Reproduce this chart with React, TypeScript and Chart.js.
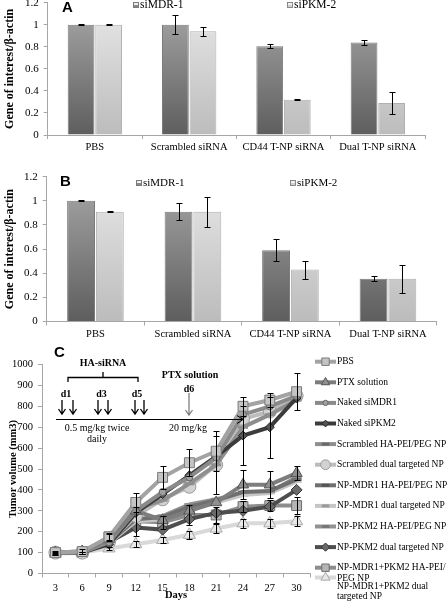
import React, { useEffect, useRef } from "react";
import { Chart, registerables } from "chart.js";
Chart.register(...registerables);

const SERIF = '"Liberation Serif", "Times New Roman", serif';
const SANS = '"Liberation Sans", Arial, sans-serif';

// ---------- Panels A & B data ----------
const barCategories = ["PBS", "Scrambled siRNA", "CD44 T-NP siRNA", "Dual T-NP siRNA"];
const barSeriesNames = ["siMDR-1", "siPKM-2"];
const barYTicks = [0, 0.2, 0.4, 0.6, 0.8, 1, 1.2];

const aMDR1 = [1.0, 1.0, 0.805, 0.84];
const aMDR1Err = [0.004, 0.085, 0.02, 0.025];
const aPKM2 = [1.0, 0.94, 0.32, 0.29];
const aPKM2Err = [0.004, 0.04, 0.005, 0.1];

const bMDR1 = [1.0, 0.91, 0.59, 0.355];
const bMDR1Err = [0.003, 0.07, 0.09, 0.022];
const bPKM2 = [0.91, 0.91, 0.43, 0.355];
const bPKM2Err = [0.003, 0.125, 0.075, 0.115];

// ---------- Panel C data ----------
const days = ["3", "6", "9", "12", "15", "18", "21", "24", "27", "30"];
const cNames = [
  "PBS",
  "PTX solution",
  "Naked siMDR1",
  "Naked siPKM2",
  "Scrambled HA-PEI/PEG NP",
  "Scrambled dual targeted NP",
  "NP-MDR1 HA-PEI/PEG NP",
  "NP-MDR1 dual targeted NP",
  "NP-PKM2 HA-PEI/PEG NP",
  "NP-PKM2 dual targeted NP",
  "NP-MDR1+PKM2 HA-PEI/\nPEG NP",
  "NP-MDR1+PKM2 dual\ntargeted NP",
];
const cPBS = [100, 105, 175, 340, 460, 530, 585, 800, 830, 870];
const cPTX = [100, 105, 165, 300, 255, 300, 340, 425, 425, 480];
const cNakedMDR1 = [100, 100, 150, 300, 390, 460, 555, 760, 800, 850];
const cNakedPKM2 = [100, 100, 140, 290, 380, 470, 560, 660, 700, 840];
const cScrHA = [100, 105, 155, 310, 350, 430, 520, 700, 760, 830];
const cScrDual = [100, 100, 150, 275, 355, 415, 520, 740, 775, 850];
const cMDR1HA = [100, 100, 150, 260, 270, 320, 350, 390, 395, 450];
const cMDR1Dual = [100, 100, 145, 250, 260, 310, 340, 375, 385, 440];
const cPKM2HA = [100, 100, 150, 255, 275, 330, 355, 385, 390, 460];
const cPKM2Dual = [100, 100, 150, 220, 210, 260, 290, 300, 320, 400];
const cComboHA = [100, 100, 175, 250, 245, 280, 280, 320, 325, 325];
const cComboDual = [95, 100, 120, 140, 160, 185, 215, 240, 240, 250];

const cPBSErr = [10, 12, 20, 45, 55, 65, 95, 45, 35, 90];
const cNakedPKM2Err = [0, 0, 0, 0, 0, 0, 0, 140, 145, 0];
const cScrDualErr = [0, 0, 0, 0, 0, 0, 140, 0, 0, 0];
const cPTXErr = [0, 0, 0, 0, 0, 0, 0, 70, 65, 35];
const cComboHAErr = [5, 5, 15, 70, 30, 50, 40, 25, 25, 40];
const cComboDualErr = [5, 5, 8, 15, 15, 20, 20, 20, 20, 25];
const cYTicks = [0, 100, 200, 300, 400, 500, 600, 700, 800, 900, 1000];

const cValues = [cPBS, cPTX, cNakedMDR1, cNakedPKM2, cScrHA, cScrDual, cMDR1HA, cMDR1Dual, cPKM2HA, cPKM2Dual, cComboHA, cComboDual];
const cErrors = [cPBSErr, cPTXErr, null, cNakedPKM2Err, null, cScrDualErr, null, null, null, null, cComboHAErr, cComboDualErr];

// ---------- styles / layout ----------
const cStyles = [
  { line: "#a3a3a3", fill: "#c4c4c4", edge: "#7a7a7a", marker: "rect", r: 7 },
  { line: "#7d7d7d", fill: "#8f8f8f", edge: "#555555", marker: "triangle", r: 6.5 },
  { line: "#8a8a8a", fill: "#a0a0a0", edge: "#666666", marker: "circle", r: 3.5 },
  { line: "#3c3c3c", fill: "#555555", edge: "#222222", marker: "rectRot", r: 4.5 },
  { line: "#8e8e8e", fill: "#8e8e8e", edge: "#6a6a6a", marker: "line", r: 5 },
  { line: "#bcbcbc", fill: "#d2d2d2", edge: "#9a9a9a", marker: "circle", r: 6.5 },
  { line: "#6f6f6f", fill: "#777777", edge: "#555555", marker: "line", r: 5 },
  { line: "#c6c6c6", fill: "#c6c6c6", edge: "#9a9a9a", marker: "line", r: 5 },
  { line: "#929292", fill: "#999999", edge: "#777777", marker: "line", r: 5 },
  { line: "#4e4e4e", fill: "#6a6a6a", edge: "#333333", marker: "rectRot", r: 5.5 },
  { line: "#8d8d8d", fill: "#b5b5b5", edge: "#6f6f6f", marker: "rect", r: 7 },
  { line: "#d9d9d9", fill: "#e8e8e8", edge: "#a8a8a8", marker: "triangle", r: 7 },
];

const AXIS = "#a6a6a6";
const A_TOP = -10, A_H = 170;
const B_TOP = 150, B_H = 197;
const C_TOP = 338, C_H = 264;

function drawMarker(ctx: CanvasRenderingContext2D, style: string, x: number, y: number, r: number, fill: string, stroke: string, bw: number) {
  ctx.save();
  ctx.fillStyle = fill;
  ctx.strokeStyle = stroke;
  ctx.lineWidth = bw;
  ctx.beginPath();
  if (style === "rect") {
    const s = Math.SQRT1_2 * r;
    ctx.rect(x - s, y - s, 2 * s, 2 * s);
  } else if (style === "rectRot") {
    ctx.moveTo(x, y - r); ctx.lineTo(x + r, y); ctx.lineTo(x, y + r); ctx.lineTo(x - r, y); ctx.closePath();
  } else if (style === "triangle") {
    const t = (2 * Math.PI) / 3;
    ctx.moveTo(x, y - r);
    ctx.lineTo(x + Math.sin(t) * r, y - Math.cos(t) * r);
    ctx.lineTo(x + Math.sin(2 * t) * r, y - Math.cos(2 * t) * r);
    ctx.closePath();
  } else if (style === "circle") {
    ctx.arc(x, y, r, 0, Math.PI * 2);
  } else {
    ctx.moveTo(x - r, y); ctx.lineTo(x + r, y);
    ctx.lineWidth = 3;
    ctx.stroke();
    ctx.restore();
    return;
  }
  ctx.fill();
  if (bw > 0) ctx.stroke();
  ctx.restore();
}

const errorBarPlugin = {
  id: "errorBars",
  afterDatasetsDraw(chart: any, _a: any, opts: any) {
    const ctx = chart.ctx;
    const ys = chart.scales.y;
    const cap = opts && opts.cap ? opts.cap : 3;
    chart.data.datasets.forEach((ds: any, di: number) => {
      if (!ds.errors) return;
      const meta = chart.getDatasetMeta(di);
      ctx.save();
      ctx.strokeStyle = "#000";
      ctx.lineWidth = 1;
      meta.data.forEach((el: any, i: number) => {
        const e = ds.errors[i];
        if (!e) return;
        const v = ds.data[i];
        const x = Math.round(el.x) + 0.5;
        const y1 = Math.round(ys.getPixelForValue(v + e)) + 0.5;
        const y2 = Math.round(ys.getPixelForValue(v - e)) + 0.5;
        ctx.beginPath();
        ctx.moveTo(x, y1); ctx.lineTo(x, y2);
        ctx.moveTo(x - cap, y1); ctx.lineTo(x + cap, y1);
        ctx.moveTo(x - cap, y2); ctx.lineTo(x + cap, y2);
        ctx.stroke();
      });
      ctx.restore();
    });
  },
};

const barLegendPlugin = {
  id: "barLegend",
  afterDraw(chart: any, _a: any, opts: any) {
    const ctx = chart.ctx;
    ctx.save();
    ctx.fillStyle = "#000";
    ctx.textBaseline = "middle";
    ctx.textAlign = "left";
    ctx.font = `bold 15px ${SANS}`;
    ctx.fillText(opts.letter, opts.letterX, opts.letterY);
    ctx.font = `${opts.fontSize}px ${SERIF}`;
    opts.items.forEach((it: any, i: number) => {
      const ds = chart.data.datasets[i];
      ctx.fillStyle = it.icon;
      ctx.fillRect(it.x, it.y - 3, 6, 6);
      ctx.fillStyle = "#f0f0f0";
      ctx.fillRect(it.x + 1, it.y - 2, 4, 2);
      ctx.strokeStyle = "#777";
      ctx.lineWidth = 0.8;
      ctx.strokeRect(it.x + 0.5, it.y - 2.5, 5, 5);
      ctx.fillStyle = "#000";
      ctx.fillText(ds.label, it.x + 7, it.y);
    });
    ctx.restore();
  },
};

function vGrad(dark: string, light: string) {
  return (c: any) => {
    const area = c.chart.chartArea;
    if (!area) return dark;
    const g = c.chart.ctx.createLinearGradient(0, area.bottom, 0, area.top);
    g.addColorStop(0, dark);
    g.addColorStop(1, light);
    return g;
  };
}

function makeBarChart(canvas: HTMLCanvasElement, cfg: any) {
  return new Chart(canvas, {
    type: "bar",
    data: {
      labels: barCategories,
      datasets: [
        {
          label: barSeriesNames[0], data: cfg.mdr, errors: cfg.mdrErr,
          backgroundColor: vGrad("#5e5e5e", "#a8a8a8"), borderColor: "#7a7a7a", borderWidth: 1,
          categoryPercentage: cfg.catPct, barPercentage: 0.97,
        } as any,
        {
          label: barSeriesNames[1], data: cfg.pkm, errors: cfg.pkmErr,
          backgroundColor: vGrad("#bcbcbc", "#e8e8e8"), borderColor: "#b0b0b0", borderWidth: 1,
          categoryPercentage: cfg.catPct, barPercentage: 0.97,
        } as any,
      ],
    },
    options: {
      animation: false,
      responsive: false,
      maintainAspectRatio: false,
      layout: { padding: { top: cfg.padTop, right: cfg.padRight, left: 0, bottom: 0 } },
      plugins: {
        legend: { display: false },
        tooltip: { enabled: false },
        errorBars: { cap: 3 },
        barLegend: cfg.legend,
      } as any,
      scales: {
        x: {
          grid: { offset: true, drawOnChartArea: false, tickLength: 4, color: AXIS },
          border: { color: AXIS },
          ticks: { font: { family: SERIF, size: 10.5 }, color: "#000", padding: 2, maxRotation: 0, autoSkip: false },
          afterFit: (s: any) => { s.height = cfg.xH; },
        },
        y: {
          min: 0, max: 1.2,
          afterBuildTicks: (s: any) => { s.ticks = barYTicks.map((v) => ({ value: v })); },
          ticks: { font: { family: SERIF, size: 11 }, color: "#000", padding: 5, callback: (v: any) => String(Math.round(Number(v) * 10) / 10) },
          grid: { drawOnChartArea: false, tickLength: 4, color: AXIS },
          border: { color: AXIS },
          title: { display: true, text: "Gene of interest/β-actin", font: { family: SERIF, size: 12, weight: "bold" }, color: "#000", padding: { top: 3, bottom: 0 } },
          afterFit: (s: any) => { s.width = cfg.yW; },
        },
      },
    } as any,
    plugins: [errorBarPlugin, barLegendPlugin],
  });
}

function downArrow(ctx: CanvasRenderingContext2D, x: number, y1: number, y2: number, color: string) {
  ctx.save();
  ctx.strokeStyle = color;
  ctx.lineWidth = 1.3;
  ctx.beginPath();
  ctx.moveTo(x, y1); ctx.lineTo(x, y2);
  ctx.moveTo(x - 3.5, y2 - 5); ctx.lineTo(x, y2); ctx.lineTo(x + 3.5, y2 - 5);
  ctx.stroke();
  ctx.restore();
}

const cAnnotPlugin = {
  id: "cAnnot",
  afterDraw(chart: any) {
    const ctx = chart.ctx as CanvasRenderingContext2D;
    const Y = (py: number) => py - C_TOP;
    const ca = chart.chartArea;
    ctx.save();
    ctx.fillStyle = "#000";
    ctx.textBaseline = "middle";
    // panel letter
    ctx.textAlign = "left";
    ctx.font = `bold 15px ${SANS}`;
    ctx.fillText("C", 54, Y(353));
    // x title
    ctx.textAlign = "center";
    ctx.font = `bold 10.5px ${SERIF}`;
    ctx.fillText("Days", (ca.left + ca.right) / 2, Y(595.5));
    // annotations
    ctx.font = `bold 10px ${SERIF}`;
    ctx.fillText("HA-siRNA", 103, Y(363));
    ctx.fillText("PTX solution", 190, Y(375));
    ctx.fillText("d1", 66, Y(394));
    ctx.fillText("d3", 101.5, Y(394));
    ctx.fillText("d5", 137, Y(394));
    ctx.fillText("d6", 189, Y(389));
    ctx.font = `10px ${SERIF}`;
    ctx.fillText("0.5 mg/kg twice", 97, Y(428));
    ctx.fillText("daily", 97, Y(439));
    ctx.fillText("20 mg/kg", 188, Y(428));
    // bracket
    ctx.strokeStyle = "#000";
    ctx.lineWidth = 1.3;
    ctx.beginPath();
    ctx.moveTo(68, Y(382)); ctx.lineTo(68, Y(377.5)); ctx.lineTo(138, Y(377.5)); ctx.lineTo(138, Y(382));
    ctx.moveTo(103, Y(377.5)); ctx.lineTo(103, Y(372));
    ctx.stroke();
    // arrows
    [62, 73, 98, 108, 135, 144].forEach((x) => downArrow(ctx, x, Y(400), Y(414), "#000"));
    downArrow(ctx, 189, Y(393), Y(415), "#808080");
    ctx.lineWidth = 1;
    ctx.beginPath();
    ctx.moveTo(56, Y(419.5)); ctx.lineTo(243, Y(419.5));
    ctx.moveTo(237, Y(415.5)); ctx.lineTo(243, Y(419.5)); ctx.lineTo(237, Y(423.5));
    ctx.stroke();
    // legend
    ctx.textAlign = "left";
    ctx.font = `9.5px ${SERIF}`;
    chart.data.datasets.forEach((ds: any, i: number) => {
      const st = cStyles[i];
      const my = i < 11 ? 361.7 + i * 20.6 : 577.5;
      const lines = String(ds.label).split("\n");
      ctx.save();
      ctx.strokeStyle = st.line;
      ctx.lineWidth = 4;
      ctx.beginPath();
      ctx.moveTo(315, Y(my)); ctx.lineTo(336, Y(my));
      ctx.stroke();
      ctx.restore();
      drawMarker(ctx, st.marker, 325.5, Y(my), st.r * 0.75, st.fill, st.edge, 1);
      ctx.fillStyle = "#000";
      const ty = i < 11 ? my : 586;
      lines.forEach((ln, k) => ctx.fillText(ln, 337, Y(ty + k * 10.5)));
    });
    ctx.restore();
  },
};

function makeLineChart(canvas: HTMLCanvasElement) {
  const datasets = cNames.map((name, i) => {
    const st = cStyles[i];
    return {
      label: name,
      data: cValues[i],
      errors: cErrors[i],
      borderColor: st.line,
      borderWidth: 4,
      pointStyle: st.marker,
      pointRadius: st.r,
      pointBackgroundColor: st.fill,
      pointBorderColor: st.marker === "line" ? st.line : st.edge,
      pointBorderWidth: st.marker === "line" ? 3 : 1,
      tension: 0,
      fill: false,
    } as any;
  });
  return new Chart(canvas, {
    type: "line",
    data: { labels: days, datasets },
    options: {
      animation: false,
      responsive: false,
      maintainAspectRatio: false,
      layout: { padding: { top: 26.5, right: 138, left: 0, bottom: 0 } },
      plugins: {
        legend: { display: false },
        tooltip: { enabled: false },
        errorBars: { cap: 3 },
      } as any,
      scales: {
        x: {
          offset: true,
          grid: { offset: true, drawOnChartArea: false, tickLength: 4, color: AXIS },
          border: { color: AXIS },
          ticks: { font: { family: SERIF, size: 10.5 }, color: "#000", padding: 4, maxRotation: 0, autoSkip: false },
          afterFit: (s: any) => { s.height = 28.5; },
        },
        y: {
          min: 0, max: 1000,
          afterBuildTicks: (s: any) => { s.ticks = cYTicks.map((v) => ({ value: v })); },
          ticks: { font: { family: SERIF, size: 10.5 }, color: "#000", padding: 5, callback: (v: any) => String(v) },
          grid: { drawOnChartArea: false, tickLength: 4, color: AXIS },
          border: { color: AXIS },
          title: { display: true, text: "Tumor volume (mm3)", font: { family: SERIF, size: 10.5, weight: "bold" }, color: "#000", padding: { top: 7, bottom: 0 } },
          afterFit: (s: any) => { s.width = 42; },
        },
      },
    } as any,
    plugins: [errorBarPlugin, cAnnotPlugin],
  });
}

export default function App() {
  const aRef = useRef<HTMLCanvasElement>(null);
  const bRef = useRef<HTMLCanvasElement>(null);
  const cRef = useRef<HTMLCanvasElement>(null);

  useEffect(() => {
    const a = makeBarChart(aRef.current!, {
      mdr: aMDR1, mdrErr: aMDR1Err, pkm: aPKM2, pkmErr: aPKM2Err,
      padTop: 2.7 - A_TOP, padRight: 23, xH: 25, yW: 47.7, catPct: 0.585,
      legend: {
        letter: "A", letterX: 62, letterY: 8.3 - A_TOP, fontSize: 11.5,
        items: [{ x: 133, y: 5 - A_TOP, icon: "#8a8a8a" }, { x: 287, y: 5 - A_TOP, icon: "#cfcfcf" }],
      },
    });
    const b = makeBarChart(bRef.current!, {
      mdr: bMDR1, mdrErr: bMDR1Err, pkm: bPKM2, pkmErr: bPKM2Err,
      padTop: 176.7 - B_TOP, padRight: 11.3, xH: 25.5, yW: 46.7, catPct: 0.59,
      legend: {
        letter: "B", letterX: 60, letterY: 181.7 - B_TOP, fontSize: 11,
        items: [{ x: 136, y: 183 - B_TOP, icon: "#8a8a8a" }, { x: 290, y: 183 - B_TOP, icon: "#cfcfcf" }],
      },
    });
    const c = makeLineChart(cRef.current!);
    return () => { a.destroy(); b.destroy(); c.destroy(); };
  }, []);

  const cs = (top: number, h: number): React.CSSProperties => ({ position: "absolute", left: 0, top, width: 448, height: h });
  return (
    <div style={{ position: "fixed", left: 0, top: 0, width: 448, height: 602, overflow: "hidden", background: "#fff" }}>
      <canvas ref={aRef} width={448} height={A_H} style={cs(A_TOP, A_H)} />
      <canvas ref={bRef} width={448} height={B_H} style={cs(B_TOP, B_H)} />
      <canvas ref={cRef} width={448} height={C_H} style={cs(C_TOP, C_H)} />
    </div>
  );
}
